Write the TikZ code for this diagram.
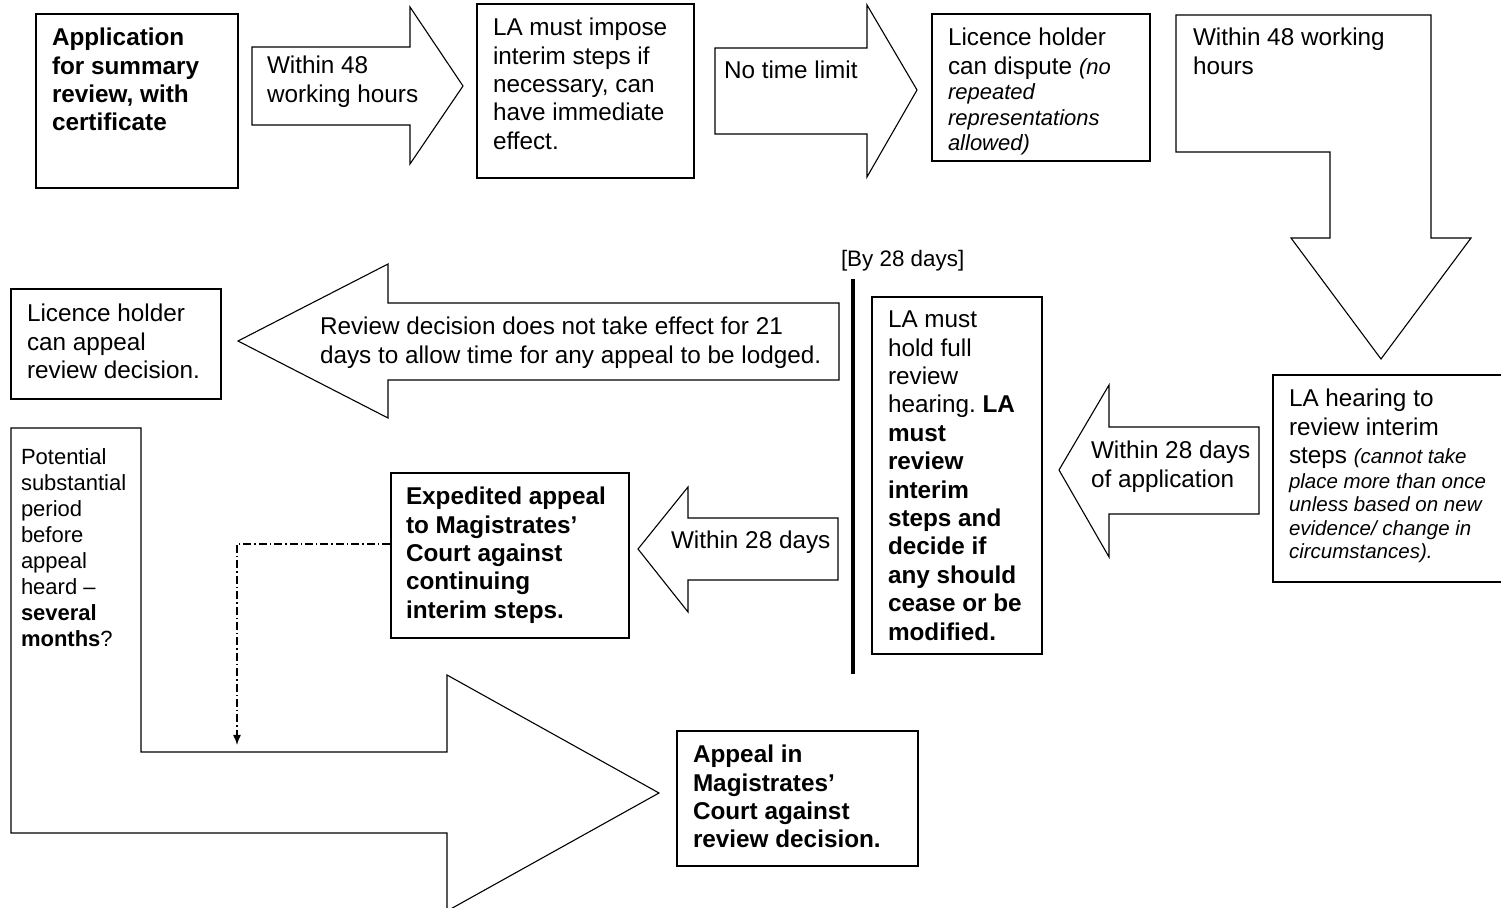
\documentclass[tikz,border=0pt]{standalone}
\usepackage{fontspec}
\setmainfont{Liberation Sans}
\usetikzlibrary{arrows.meta,fit}
\newcommand\smit[1]{{\fontsize{11}{13}\selectfont\itshape #1}}
\newcommand\smitb[1]{{\fontsize{10.25}{12}\selectfont\itshape #1}}
\frenchspacing
\begin{document}
\begin{tikzpicture}[x=0.5pt,y=-0.5pt,
  box/.style={draw, line width=1pt, inner sep=0pt},
  blockarrow/.style={draw, line width=0.55pt, fill=white, line join=miter},
  txt/.style={anchor=north west, inner sep=0pt, outer sep=0pt, align=left, font=\fontsize{12.15}{14.2}\selectfont},
  bold/.style={txt, font=\fontsize{12.15}{14.2}\selectfont\bfseries},
  dd/.style={line width=0.7pt, dash pattern=on 4pt off 1.5pt on 0.7pt off 1.5pt, -{Latex[length=5pt,width=4pt]}},
  bar/.style={line width=1.7pt}
]
\useasboundingbox (0,0) rectangle (1501,908);

% block arrows
\draw[blockarrow] (252,47) -- (410,47) -- (410,7) -- (463,86) -- (410,164) -- (410,125) -- (252,125) -- cycle;
\draw[blockarrow] (715,48) -- (867,48) -- (867,5) -- (917,90) -- (867,177) -- (867,134) -- (715,134) -- cycle;
\draw[blockarrow] (1176,15) -- (1431,15) -- (1431,238) -- (1471,238) -- (1381,359) -- (1291,238) -- (1330,238) -- (1330,152) -- (1176,152) -- cycle;
\draw[blockarrow] (839,303) -- (388,303) -- (388,264) -- (238,341) -- (388,418) -- (388,380) -- (839,380) -- cycle;
\draw[blockarrow] (1259,427) -- (1109,427) -- (1109,385) -- (1059,470) -- (1109,557) -- (1109,514) -- (1259,514) -- cycle;
\draw[blockarrow] (838,518) -- (688,518) -- (688,487) -- (638,549) -- (688,612) -- (688,580) -- (838,580) -- cycle;
\draw[blockarrow] (11,428) -- (141,428) -- (141,752) -- (447,752) -- (447,675) -- (659,793) -- (447,911) -- (447,833) -- (11,833) -- cycle;

% boxes
\node[box, fit={(36,14) (238,188)}] (b1) {};
\node[box, fit={(477,4) (694,178)}] (b2) {};
\node[box, fit={(932,14) (1150,161)}] (b3) {};
\node[box, fit={(11,289) (221,399)}] (b4) {};
\node[box, fit={(872,297) (1042,654)}] (b5) {};
\node[box, fit={(1273,375) (1512,582)}] (b6) {};
\node[box, fit={(391,473) (629,638)}] (b7) {};
\node[box, fit={(677,731) (918,866)}] (b8) {};

% divider
\coordinate (bartop) at (853,279);
\coordinate (barbot) at (853,674);
\draw[bar] (bartop) -- (barbot);

% texts
\node[bold] (t1) at (52,28) {Application\\for summary\\review, with\\certificate};
\node[txt] (t1a) at (267,56) {Within 48\\working hours};
\node[txt] (t2) at (493,18) {LA must impose\\interim steps if\\necessary, can\\have immediate\\effect.};
\node[txt] (t2a) at (724,61) {No time limit};
\node[txt] (t3) at (948,28) {Licence holder\\can dispute \smit{(no}\\[-1.25pt]\smit{repeated}\\[-1.5pt]\smit{representations}\\[-1.5pt]\smit{allowed)}};
\node[txt] (t3a) at (1193,28) {Within 48 working\\hours};
\node[txt, font=\fontsize{11.2}{13}\selectfont] (by) at (841,250) {[By 28 days]};
\node[txt] (t5a) at (320,317) {Review decision does not take effect for 21\\days to allow time for any appeal to be lodged.};
\node[txt] (t4) at (27,304) {Licence holder\\can appeal\\review decision.};
\node[txt] (t5) at (888,311) {LA must\\hold full\\review\\hearing. \textbf{LA}\\\textbf{must}\\\textbf{review}\\\textbf{interim}\\\textbf{steps and}\\\textbf{decide if}\\\textbf{any should}\\\textbf{cease or be}\\\textbf{modified.}};
\node[txt] (t6a) at (1091,441) {Within 28 days\\of application};
\node[txt] (t6) at (1289,389) {LA hearing to\\review interim\\steps \smitb{(cannot take}\\[-1.75pt]\smitb{place more than once}\\[-2.5pt]\smitb{unless based on new}\\[-2.5pt]\smitb{evidence/ change in}\\[-2.5pt]\smitb{circumstances).}};
\node[txt] (t7a) at (671,531) {Within 28 days};
\node[bold] (t7) at (406,487) {Expedited appeal\\to Magistrates’\\Court against\\continuing\\interim steps.};
\node[txt, font=\fontsize{11}{13}\selectfont] (t9) at (21,449) {Potential\\substantial\\period\\before\\appeal\\heard –\\\textbf{several}\\\textbf{months}?};
\node[bold] (t8) at (693,745) {Appeal in\\Magistrates’\\Court against\\review decision.};

% dash-dot connector
\coordinate (ddend) at (237,745);
\draw[dd] ([yshift=5.75pt]b7.west) -| (ddend);
\end{tikzpicture}
\end{document}
